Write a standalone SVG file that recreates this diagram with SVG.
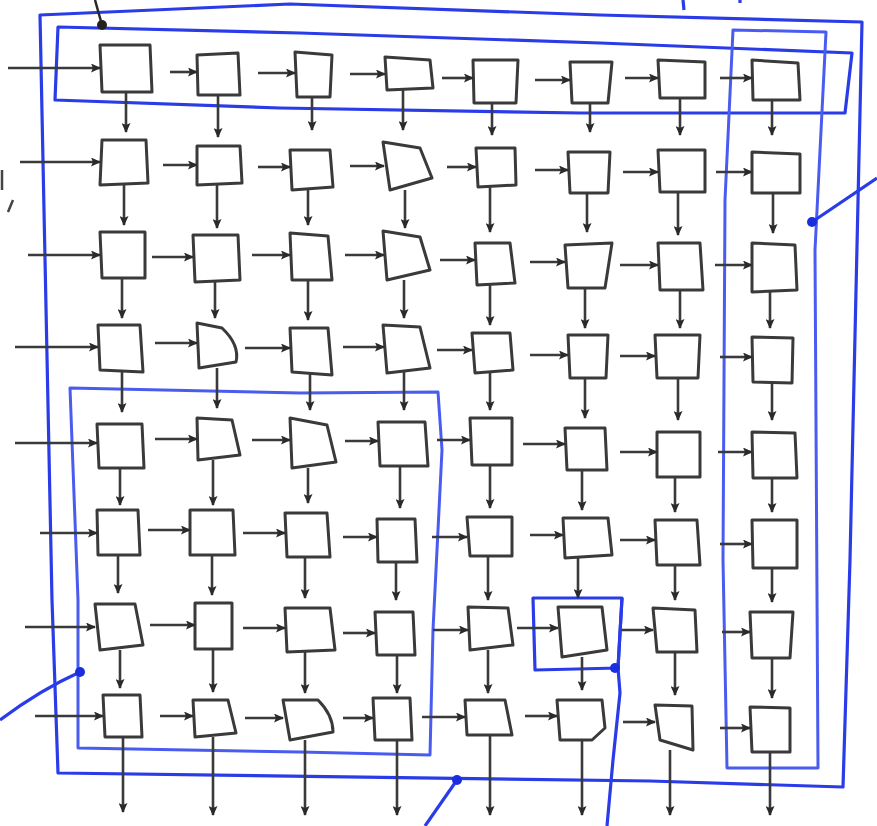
<svg xmlns="http://www.w3.org/2000/svg" width="877" height="826" viewBox="0 0 877 826">
<style>
.node path{fill:#fff;stroke:#3a3a3a;stroke-width:3;stroke-linejoin:round}
.c line{stroke:#3a3a3a;stroke-width:2.6;marker-end:url(#ah)}
.blue{fill:none;stroke:#2a3be8;stroke-width:3.2;stroke-linejoin:round}
.blue2{fill:none;stroke:#4a5cf0;stroke-width:3;stroke-linejoin:round}
.dot{fill:#1a2ee0}
</style>
<defs>
<marker id="ah" markerWidth="10" markerHeight="9" refX="9" refY="4.5" orient="auto" markerUnits="userSpaceOnUse">
<path d="M0,0 L10,4.5 L0,9 L2,4.5 z" fill="#2a2a2a"/>
</marker>
</defs>
<rect width="877" height="826" fill="#fff"/>

<g id="groups">
<path class="blue" d="M40,15 L290,4 L600,15 L862,22 L850,560 L843,787 L650,781 L58,773 L52,600 Z"/>
<path class="blue" d="M58,27 L300,33 L600,43 L852,53 L845,113 L580,113 L280,108 L55,100 Z"/>
<path class="blue2" d="M733,30 L826,32 L815,250 L818,768 L727,768 L723,560 L725,200 Z"/>
<path class="blue2" d="M70,388 L300,393 L438,392 L442,450 L433,630 L430,755 L300,752 L78,748 L78,600 Z"/>
<path class="blue" d="M535,670 L533,598 L622,598 L618,668 Z"/>
</g>

<g id="row1">
<g id="n1-1" class="node"><path d="M100,45 L150,45 L152,92 L102,92 Z"/></g>
<g id="n1-2" class="node"><path d="M197,55 L238,53 L240,95 L198,95 Z"/></g>
<g id="n1-3" class="node"><path d="M295,52 L332,55 L330,97 L297,97 Z"/></g>
<g id="n1-4" class="node"><path d="M385,57 L430,60 L433,88 L387,90 Z"/></g>
<g id="n1-5" class="node"><path d="M473,60 L518,60 L516,103 L474,103 Z"/></g>
<g id="n1-6" class="node"><path d="M570,62 L612,62 L608,103 L572,103 Z"/></g>
<g id="n1-7" class="node"><path d="M658,60 L705,62 L705,98 L660,98 Z"/></g>
<g id="n1-8" class="node"><path d="M752,60 L798,63 L800,100 L753,100 Z"/></g>
</g>
<g id="row2">
<g id="n2-1" class="node"><path d="M102,140 L146,140 L148,183 L100,185 Z"/></g>
<g id="n2-2" class="node"><path d="M197,146 L240,146 L242,183 L197,185 Z"/></g>
<g id="n2-3" class="node"><path d="M290,150 L330,150 L333,187 L292,190 Z"/></g>
<g id="n2-4" class="node"><path d="M383,142 L420,148 L432,178 L390,190 Z"/></g>
<g id="n2-5" class="node"><path d="M476,148 L515,148 L516,185 L478,187 Z"/></g>
<g id="n2-6" class="node"><path d="M568,152 L610,152 L608,193 L570,193 Z"/></g>
<g id="n2-7" class="node"><path d="M658,150 L705,150 L705,192 L660,192 Z"/></g>
<g id="n2-8" class="node"><path d="M752,152 L800,154 L800,193 L752,193 Z"/></g>
</g>
<g id="row3">
<g id="n3-1" class="node"><path d="M100,232 L145,232 L145,278 L102,278 Z"/></g>
<g id="n3-2" class="node"><path d="M193,235 L238,235 L240,280 L195,282 Z"/></g>
<g id="n3-3" class="node"><path d="M290,233 L328,236 L332,280 L292,280 Z"/></g>
<g id="n3-4" class="node"><path d="M383,231 L420,237 L430,270 L387,280 Z"/></g>
<g id="n3-5" class="node"><path d="M475,243 L510,243 L515,283 L477,285 Z"/></g>
<g id="n3-6" class="node"><path d="M565,245 L612,243 L605,288 L568,288 Z"/></g>
<g id="n3-7" class="node"><path d="M658,243 L700,243 L703,290 L660,290 Z"/></g>
<g id="n3-8" class="node"><path d="M752,243 L795,245 L797,290 L752,292 Z"/></g>
</g>
<g id="row4">
<g id="n4-1" class="node"><path d="M98,325 L140,325 L143,372 L100,370 Z"/></g>
<g id="n4-2" class="node"><path d="M197,323 L222,328 Q240,345 236,362 L199,368 Z"/></g>
<g id="n4-3" class="node"><path d="M290,328 L328,328 L332,375 L292,372 Z"/></g>
<g id="n4-4" class="node"><path d="M383,325 L420,327 L430,368 L387,373 Z"/></g>
<g id="n4-5" class="node"><path d="M472,333 L510,333 L513,370 L475,373 Z"/></g>
<g id="n4-6" class="node"><path d="M568,335 L608,335 L606,378 L570,378 Z"/></g>
<g id="n4-7" class="node"><path d="M655,335 L700,335 L698,378 L657,378 Z"/></g>
<g id="n4-8" class="node"><path d="M752,337 L793,338 L792,383 L753,382 Z"/></g>
</g>
<g id="row5">
<g id="n5-1" class="node"><path d="M97,424 L142,424 L144,468 L99,468 Z"/></g>
<g id="n5-2" class="node"><path d="M197,418 L232,420 L240,455 L198,460 Z"/></g>
<g id="n5-3" class="node"><path d="M290,418 L327,425 L336,462 L292,468 Z"/></g>
<g id="n5-4" class="node"><path d="M378,422 L425,422 L428,466 L380,466 Z"/></g>
<g id="n5-5" class="node"><path d="M470,418 L512,418 L512,465 L472,465 Z"/></g>
<g id="n5-6" class="node"><path d="M565,428 L605,428 L607,470 L567,470 Z"/></g>
<g id="n5-7" class="node"><path d="M657,432 L700,432 L700,477 L657,477 Z"/></g>
<g id="n5-8" class="node"><path d="M752,432 L795,433 L797,478 L753,478 Z"/></g>
</g>
<g id="row6">
<g id="n6-1" class="node"><path d="M97,510 L138,510 L140,555 L98,555 Z"/></g>
<g id="n6-2" class="node"><path d="M190,510 L233,510 L235,555 L190,555 Z"/></g>
<g id="n6-3" class="node"><path d="M285,513 L327,513 L330,557 L287,557 Z"/></g>
<g id="n6-4" class="node"><path d="M377,519 L415,519 L417,562 L378,562 Z"/></g>
<g id="n6-5" class="node"><path d="M467,517 L512,517 L512,556 L470,556 Z"/></g>
<g id="n6-6" class="node"><path d="M563,518 L608,518 L612,555 L565,558 Z"/></g>
<g id="n6-7" class="node"><path d="M655,520 L697,520 L700,565 L657,565 Z"/></g>
<g id="n6-8" class="node"><path d="M752,520 L797,520 L797,568 L753,568 Z"/></g>
</g>
<g id="row7">
<g id="n7-1" class="node"><path d="M95,604 L135,604 L143,645 L100,650 Z"/></g>
<g id="n7-2" class="node"><path d="M195,603 L232,603 L232,649 L195,649 Z"/></g>
<g id="n7-3" class="node"><path d="M285,608 L330,608 L335,650 L287,652 Z"/></g>
<g id="n7-4" class="node"><path d="M375,612 L413,612 L415,655 L377,655 Z"/></g>
<g id="n7-5" class="node"><path d="M468,607 L508,608 L513,645 L470,650 Z"/></g>
<g id="n7-6" class="node"><path d="M558,607 L602,607 L607,650 L562,657 Z"/></g>
<g id="n7-7" class="node"><path d="M653,608 L695,610 L697,652 L657,652 Z"/></g>
<g id="n7-8" class="node"><path d="M750,612 L793,612 L790,658 L752,658 Z"/></g>
</g>
<g id="row8">
<g id="n8-1" class="node"><path d="M103,695 L140,695 L142,737 L105,737 Z"/></g>
<g id="n8-2" class="node"><path d="M193,700 L228,700 L236,733 L195,737 Z"/></g>
<g id="n8-3" class="node"><path d="M283,700 L318,700 Q333,715 333,732 L290,740 Z"/></g>
<g id="n8-4" class="node"><path d="M373,698 L410,698 L412,740 L375,740 Z"/></g>
<g id="n8-5" class="node"><path d="M465,700 L505,700 L512,735 L467,735 Z"/></g>
<g id="n8-6" class="node"><path d="M557,700 L602,700 L605,728 L592,740 L560,740 Z"/></g>
<g id="n8-7" class="node"><path d="M655,705 L692,706 L693,750 L660,740 Z"/></g>
<g id="n8-8" class="node"><path d="M750,707 L790,708 L790,752 L752,752 Z"/></g>
</g>

<g id="connectors" class="c">
<line x1="8" y1="68" x2="100" y2="68"/><line x1="170" y1="72" x2="197" y2="72"/><line x1="258" y1="73" x2="295" y2="73"/><line x1="350" y1="74" x2="385" y2="74"/><line x1="442" y1="78" x2="473" y2="78"/><line x1="535" y1="80" x2="570" y2="80"/><line x1="625" y1="78" x2="658" y2="78"/><line x1="720" y1="78" x2="752" y2="78"/>
<line x1="126" y1="92" x2="126" y2="132"/><line x1="218" y1="95" x2="218" y2="137"/><line x1="312" y1="97" x2="312" y2="130"/><line x1="403" y1="90" x2="403" y2="130"/><line x1="492" y1="103" x2="492" y2="135"/><line x1="590" y1="103" x2="590" y2="132"/><line x1="680" y1="98" x2="680" y2="135"/><line x1="772" y1="100" x2="772" y2="135"/>

<line x1="20" y1="162" x2="100" y2="162"/><line x1="163" y1="165" x2="197" y2="165"/><line x1="258" y1="167" x2="290" y2="167"/><line x1="350" y1="166" x2="384" y2="166"/><line x1="447" y1="167" x2="476" y2="167"/><line x1="535" y1="170" x2="568" y2="170"/><line x1="623" y1="172" x2="658" y2="172"/><line x1="716" y1="172" x2="752" y2="172"/>
<line x1="124" y1="185" x2="124" y2="225"/><line x1="217" y1="185" x2="217" y2="228"/><line x1="308" y1="190" x2="308" y2="225"/><line x1="405" y1="190" x2="405" y2="228"/><line x1="490" y1="187" x2="490" y2="232"/><line x1="587" y1="193" x2="587" y2="232"/><line x1="678" y1="192" x2="678" y2="235"/><line x1="773" y1="193" x2="773" y2="233"/>

<line x1="28" y1="255" x2="100" y2="255"/><line x1="152" y1="257" x2="193" y2="257"/><line x1="252" y1="255" x2="290" y2="255"/><line x1="345" y1="255" x2="384" y2="255"/><line x1="440" y1="260" x2="475" y2="260"/><line x1="530" y1="262" x2="565" y2="262"/><line x1="620" y1="265" x2="658" y2="265"/><line x1="715" y1="265" x2="752" y2="265"/>
<line x1="122" y1="278" x2="122" y2="318"/><line x1="215" y1="281" x2="215" y2="318"/><line x1="308" y1="280" x2="308" y2="320"/><line x1="404" y1="280" x2="404" y2="318"/><line x1="490" y1="284" x2="490" y2="325"/><line x1="585" y1="288" x2="585" y2="328"/><line x1="680" y1="290" x2="680" y2="328"/><line x1="770" y1="291" x2="770" y2="328"/>

<line x1="15" y1="347" x2="98" y2="347"/><line x1="155" y1="343" x2="197" y2="343"/><line x1="245" y1="348" x2="290" y2="348"/><line x1="343" y1="347" x2="384" y2="347"/><line x1="437" y1="350" x2="472" y2="350"/><line x1="530" y1="355" x2="568" y2="355"/><line x1="620" y1="356" x2="655" y2="356"/><line x1="720" y1="357" x2="752" y2="357"/>
<line x1="122" y1="371" x2="122" y2="412"/><line x1="217" y1="368" x2="217" y2="408"/><line x1="310" y1="374" x2="310" y2="410"/><line x1="404" y1="372" x2="404" y2="410"/><line x1="490" y1="372" x2="490" y2="410"/><line x1="585" y1="378" x2="585" y2="418"/><line x1="678" y1="378" x2="678" y2="420"/><line x1="772" y1="383" x2="772" y2="420"/>

<line x1="15" y1="443" x2="97" y2="443"/><line x1="155" y1="439" x2="197" y2="439"/><line x1="252" y1="440" x2="290" y2="440"/><line x1="345" y1="441" x2="378" y2="441"/><line x1="437" y1="440" x2="470" y2="440"/><line x1="523" y1="444" x2="565" y2="444"/><line x1="620" y1="452" x2="657" y2="452"/><line x1="718" y1="452" x2="752" y2="452"/>
<line x1="120" y1="468" x2="120" y2="505"/><line x1="213" y1="460" x2="213" y2="505"/><line x1="308" y1="468" x2="308" y2="503"/><line x1="400" y1="466" x2="400" y2="508"/><line x1="490" y1="465" x2="490" y2="508"/><line x1="582" y1="470" x2="582" y2="510"/><line x1="675" y1="477" x2="675" y2="512"/><line x1="772" y1="478" x2="772" y2="512"/>

<line x1="40" y1="533" x2="97" y2="533"/><line x1="148" y1="530" x2="190" y2="530"/><line x1="243" y1="533" x2="285" y2="533"/><line x1="343" y1="537" x2="377" y2="537"/><line x1="432" y1="537" x2="467" y2="537"/><line x1="530" y1="535" x2="563" y2="535"/><line x1="620" y1="540" x2="655" y2="540"/><line x1="720" y1="544" x2="752" y2="544"/>
<line x1="118" y1="555" x2="118" y2="593"/><line x1="212" y1="555" x2="212" y2="595"/><line x1="305" y1="557" x2="305" y2="598"/><line x1="396" y1="562" x2="396" y2="600"/><line x1="488" y1="556" x2="488" y2="600"/><line x1="578" y1="558" x2="578" y2="598"/><line x1="675" y1="565" x2="675" y2="600"/><line x1="772" y1="568" x2="772" y2="602"/>

<line x1="25" y1="627" x2="95" y2="627"/><line x1="150" y1="625" x2="195" y2="625"/><line x1="243" y1="628" x2="285" y2="628"/><line x1="343" y1="633" x2="375" y2="633"/><line x1="433" y1="630" x2="468" y2="630"/><line x1="517" y1="628" x2="558" y2="628"/><line x1="620" y1="630" x2="653" y2="630"/><line x1="722" y1="632" x2="750" y2="632"/>
<line x1="120" y1="650" x2="120" y2="688"/><line x1="213" y1="649" x2="213" y2="692"/><line x1="305" y1="652" x2="305" y2="693"/><line x1="397" y1="655" x2="397" y2="693"/><line x1="488" y1="650" x2="488" y2="693"/><line x1="582" y1="657" x2="582" y2="690"/><line x1="675" y1="652" x2="675" y2="695"/><line x1="772" y1="658" x2="772" y2="698"/>

<line x1="35" y1="716" x2="103" y2="716"/><line x1="160" y1="716" x2="193" y2="716"/><line x1="245" y1="718" x2="283" y2="718"/><line x1="343" y1="718" x2="373" y2="718"/><line x1="422" y1="717" x2="465" y2="717"/><line x1="525" y1="716" x2="557" y2="716"/><line x1="623" y1="722" x2="655" y2="722"/><line x1="720" y1="728" x2="750" y2="728"/>
<line x1="123" y1="737" x2="123" y2="812"/><line x1="213" y1="737" x2="213" y2="815"/><line x1="305" y1="740" x2="305" y2="815"/><line x1="397" y1="740" x2="397" y2="815"/><line x1="490" y1="735" x2="490" y2="815"/><line x1="582" y1="740" x2="582" y2="815"/><line x1="670" y1="750" x2="670" y2="815"/><line x1="770" y1="752" x2="770" y2="815"/>
</g>

<g id="leaders">
<path class="blue" d="M622,598 L618,668 L620,693 L613,760 L607,826"/>
<circle class="dot" cx="615" cy="668" r="5"/>
<path class="blue" d="M812,222 L877,178" stroke-width="2.5"/>
<circle class="dot" cx="812" cy="222" r="5"/>
<path class="blue" d="M80,672 Q40,690 0,720" stroke-width="2.5"/>
<circle class="dot" cx="80" cy="672" r="5"/>
<path class="blue" d="M457,780 L425,826" stroke-width="2.5"/>
<circle class="dot" cx="457" cy="780" r="5"/>
<path d="M102,25 L95,0" stroke="#2a2a2a" stroke-width="2.5" fill="none"/>
<circle cx="102" cy="25" r="5" fill="#222"/>
<path class="blue" d="M683,0 L684,10 M740,0 L740,3" stroke-width="3"/>
<path d="M2,170 L2,190 M13,200 L8,212" stroke="#444" stroke-width="2.5" fill="none"/>
</g>
</svg>
